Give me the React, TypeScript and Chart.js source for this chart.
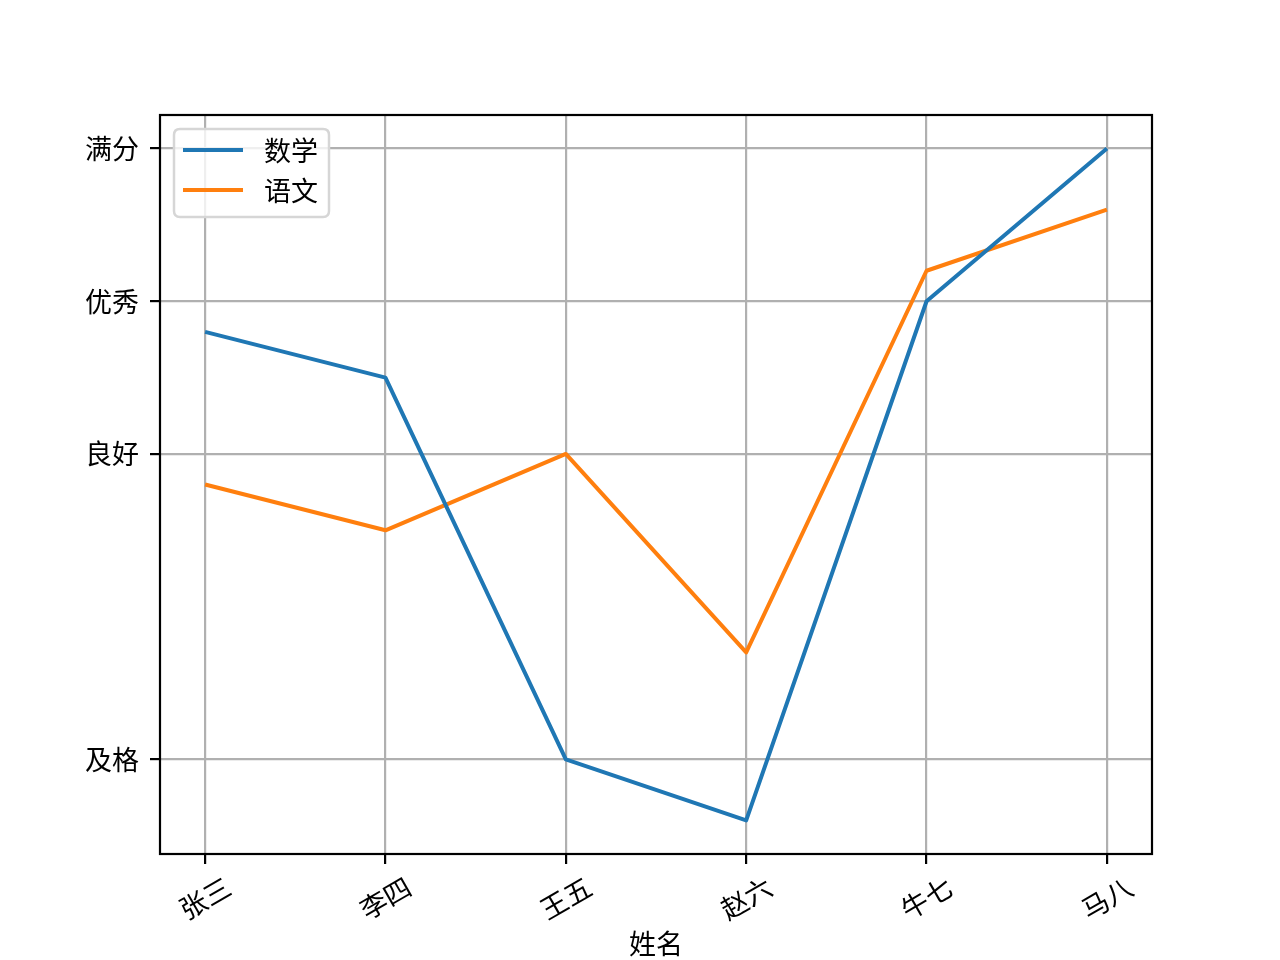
import React, { useEffect, useRef } from "react";
import { Chart, registerables } from "chart.js";

Chart.register(...registerables);

const names = ["张三", "李四", "王五", "赵六", "牛七", "马八"];
const mathScores = [88, 85, 60, 56, 90, 100];
const chineseScores = [78, 75, 80, 67, 92, 96];
const seriesNames = ["数学", "语文"];
const yTickValues = [60, 80, 90, 100];
const yTickLabels = ["及格", "良好", "优秀", "满分"];
const xAxisTitle = "姓名";

const FONT = '"Noto Sans CJK SC", "Noto Sans", sans-serif';
const COLORS = ["#1f77b4", "#ff7f0e"];

export default function App() {
  const ref = useRef<HTMLCanvasElement | null>(null);

  useEffect(() => {
    if (!ref.current) return;
    const overlay = {
      id: "overlay",
      afterDraw(chart: any) {
        const ctx = chart.ctx as CanvasRenderingContext2D;
        const a = chart.chartArea;
        const xs = chart.scales.x;
        ctx.save();
        // frame
        ctx.strokeStyle = "#000";
        ctx.lineWidth = 2.2;
        ctx.strokeRect(a.left, a.top, a.right - a.left, a.bottom - a.top);
        // x tick labels (rotated 30deg, centered)
        ctx.fillStyle = "#000";
        ctx.font = `27px ${FONT}`;
        ctx.textAlign = "center";
        ctx.textBaseline = "middle";
        names.forEach((n, i) => {
          const px = xs.getPixelForValue(i);
          ctx.save();
          ctx.translate(px, a.bottom + 44);
          ctx.rotate(-Math.PI / 6);
          ctx.fillText(n, 0, 0);
          ctx.restore();
        });
        // x axis title
        ctx.fillText(xAxisTitle, (a.left + a.right) / 2, 944);
        // legend
        const bx = 174, by = 129, bw = 155, bh = 88, r = 6;
        ctx.beginPath();
        ctx.moveTo(bx + r, by);
        ctx.lineTo(bx + bw - r, by);
        ctx.quadraticCurveTo(bx + bw, by, bx + bw, by + r);
        ctx.lineTo(bx + bw, by + bh - r);
        ctx.quadraticCurveTo(bx + bw, by + bh, bx + bw - r, by + bh);
        ctx.lineTo(bx + r, by + bh);
        ctx.quadraticCurveTo(bx, by + bh, bx, by + bh - r);
        ctx.lineTo(bx, by + r);
        ctx.quadraticCurveTo(bx, by, bx + r, by);
        ctx.closePath();
        ctx.fillStyle = "rgba(255,255,255,0.8)";
        ctx.fill();
        ctx.strokeStyle = "#d6d6d6";
        ctx.lineWidth = 2.5;
        ctx.stroke();
        seriesNames.forEach((s, i) => {
          const y = 150 + i * 40;
          ctx.strokeStyle = COLORS[i];
          ctx.lineWidth = 4;
          ctx.beginPath();
          ctx.moveTo(183, y);
          ctx.lineTo(243, y);
          ctx.stroke();
          ctx.fillStyle = "#000";
          ctx.textAlign = "left";
          ctx.fillText(s, 264, y + 1);
        });
        ctx.restore();
      },
    };

    const chart = new Chart(ref.current, {
      type: "line",
      data: {
        datasets: [
          {
            label: seriesNames[0],
            data: mathScores.map((v, i) => ({ x: i, y: v })),
            borderColor: COLORS[0],
            backgroundColor: COLORS[0],
            borderWidth: 4,
            pointRadius: 0,
            tension: 0,
            borderJoinStyle: "round",
          },
          {
            label: seriesNames[1],
            data: chineseScores.map((v, i) => ({ x: i, y: v })),
            borderColor: COLORS[1],
            backgroundColor: COLORS[1],
            borderWidth: 4,
            pointRadius: 0,
            tension: 0,
            borderJoinStyle: "round",
          },
        ],
      },
      options: {
        animation: false,
        responsive: false,
        devicePixelRatio: 1,
        layout: { padding: { left: 0, top: 115, right: 128, bottom: 0 } },
        plugins: { legend: { display: false }, tooltip: { enabled: false } },
        scales: {
          x: {
            type: "linear",
            min: -0.25,
            max: 5.25,
            afterBuildTicks: (s: any) => {
              s.ticks = names.map((_, i) => ({ value: i }));
            },
            afterFit: (s: any) => {
              s.height = 106;
            },
            ticks: { display: false, autoSkip: false },
            border: { display: false },
            grid: {
              color: "#b0b0b0",
              lineWidth: 2.2,
              tickLength: 10,
              tickColor: "#000",
              tickWidth: 2.2,
            },
          },
          y: {
            type: "linear",
            min: 53.8,
            max: 102.2,
            afterBuildTicks: (s: any) => {
              s.ticks = yTickValues.map((v) => ({ value: v }));
            },
            afterFit: (s: any) => {
              s.width = 160;
            },
            ticks: {
              autoSkip: false,
              padding: 11,
              color: "#000",
              font: { family: FONT, size: 27 },
              callback: (v: any) => {
                const k = yTickValues.indexOf(Number(v));
                return k >= 0 ? yTickLabels[k] : "";
              },
            },
            border: { display: false },
            grid: {
              color: "#b0b0b0",
              lineWidth: 2.2,
              tickLength: 10,
              tickColor: "#000",
              tickWidth: 2.2,
            },
          },
        },
      },
      plugins: [overlay],
    } as any);
    return () => chart.destroy();
  }, []);

  return (
    <div style={{ position: "absolute", left: 0, top: 0, width: 1280, height: 960, background: "#fff" }}>
      <canvas ref={ref} width={1280} height={960} style={{ width: 1280, height: 960 }} />
    </div>
  );
}
